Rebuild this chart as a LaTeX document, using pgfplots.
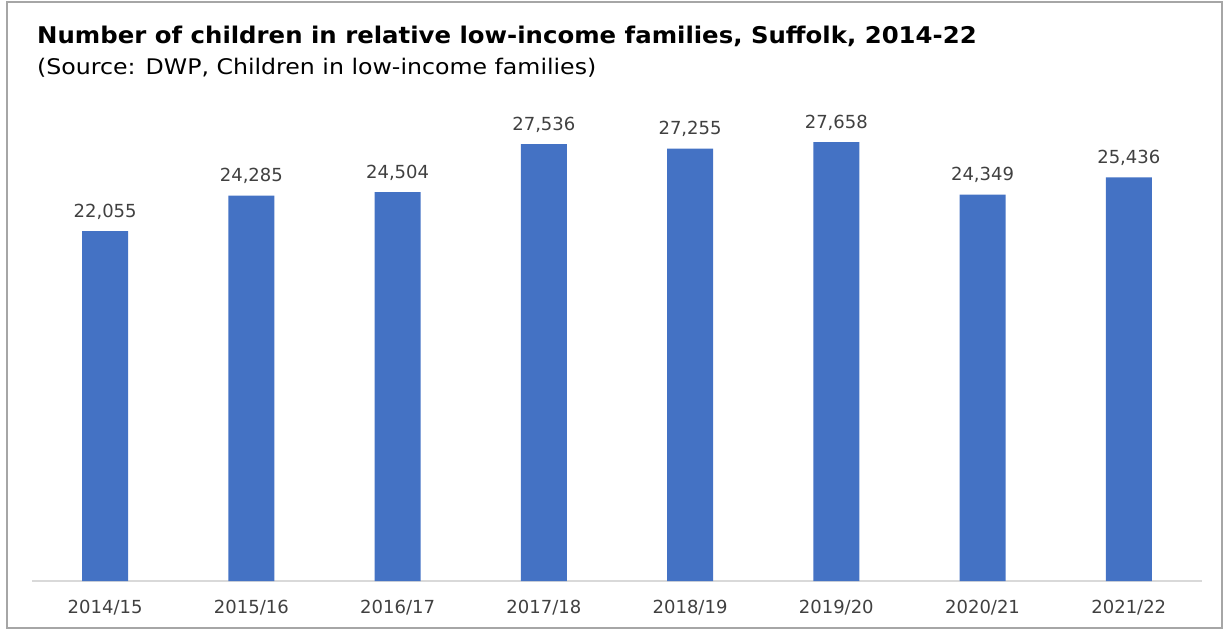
\documentclass[border=0pt]{standalone}
\usepackage{fontspec}
\setmainfont{DejaVu Sans}
\usepackage{pgfplots}
\pgfplotsset{compat=1.18}
\definecolor{barblue}{HTML}{4472C4}
\definecolor{txt}{HTML}{404040}
\definecolor{axgray}{HTML}{D9D9D9}
\definecolor{bordergray}{HTML}{A6A6A6}
\begin{document}
\begin{tikzpicture}
\path (0pt,0pt) rectangle (1229pt,630pt);
\draw[bordergray, line width=1.5pt] (7pt,2pt) rectangle (1222pt,628pt);
\node[anchor=base west, inner sep=0pt, xscale=1.06, font=\fontsize{23pt}{27pt}\selectfont\bfseries] at (37pt,586pt) {Number of children in relative low-income families, Suffolk, 2014-22};
\node[anchor=base west, inner sep=0pt, xscale=1.1, font=\fontsize{21.5pt}{25pt}\selectfont] at (37pt,555pt) {(Source: DWP, Children in low-income families)};
\begin{axis}[
  at={(32pt,49pt)}, anchor=south west,
  scale only axis,
  width=1170pt, height=476pt,
  xmin=-0.5, xmax=7.5, ymin=0, ymax=30000,
  hide y axis,
  axis x line*=bottom,
  x axis line style={color=axgray, line width=1.2pt},
  xtick=data,
  xticklabels={2014/15,2015/16,2016/17,2017/18,2018/19,2019/20,2020/21,2021/22},
  major tick length=0pt,
  xticklabel style={font=\fontsize{18pt}{21pt}\selectfont, text=txt, anchor=base, inner sep=0pt, yshift=-32pt},
  ybar, bar width=46pt,
  clip=false,
  nodes near coords,
  /pgf/number format/.cd, fixed, precision=0, 1000 sep={,}, assume math mode=true,
  /pgfplots/.cd,
  every node near coord/.append style={font=\fontsize{18pt}{21pt}\selectfont, text=txt, anchor=base, inner sep=0pt, yshift=14pt},
]
\addplot[fill=barblue, draw=none] coordinates {
(0,22055) (1,24285) (2,24504) (3,27536) (4,27255) (5,27658) (6,24349) (7,25436)
};
\end{axis}
\end{tikzpicture}
\end{document}
